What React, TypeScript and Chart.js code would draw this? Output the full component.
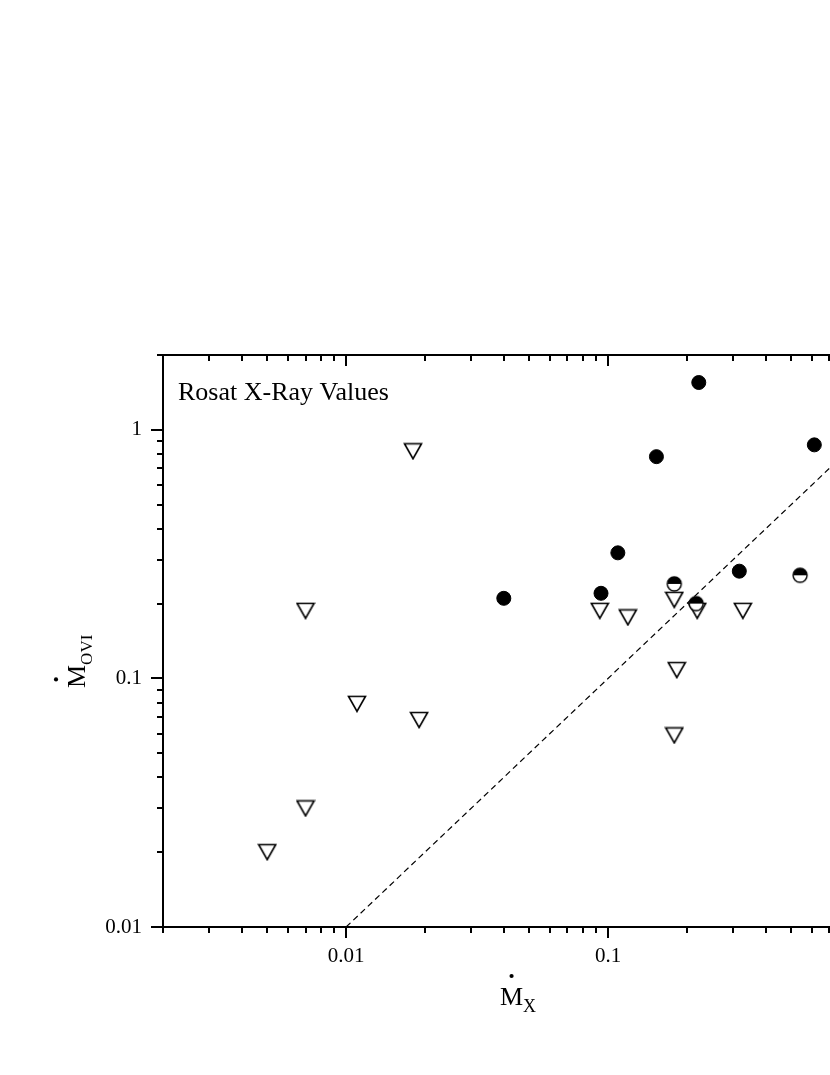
import React, { useEffect, useRef } from 'react';
import { Chart, registerables } from 'chart.js';

Chart.register(...registerables);

// ---- data ----
const filledX = [0.040, 0.094, 0.109, 0.153, 0.222, 0.317, 0.613];
const filledY = [0.21, 0.22, 0.32, 0.78, 1.55, 0.27, 0.87];

const halfX = [0.179, 0.217, 0.541];
const halfY = [0.24, 0.20, 0.26];

const triX = [0.005, 0.007, 0.007, 0.011, 0.018, 0.019, 0.093, 0.119, 0.179, 0.183, 0.179, 0.219, 0.327];
const triY = [0.020, 0.030, 0.187, 0.079, 0.82, 0.068, 0.187, 0.176, 0.207, 0.108, 0.059, 0.187, 0.187];

const refLineX = [0.01, 1];

const xTickLabels = ['0.01', '0.1', '1'];
const yTickLabels = ['0.01', '0.1', '1'];

const annotationText = 'Rosat X-Ray Values';

const X_MIN = 0.002;
const X_MAX = 1;
const Y_MIN = 0.01;
const Y_MAX = 2;

const SERIF = '"Liberation Serif", "DejaVu Serif", serif';

function logTicks(min: number, max: number): number[] {
  const out: number[] = [];
  const e0 = Math.floor(Math.log10(min));
  const e1 = Math.ceil(Math.log10(max));
  for (let e = e0; e <= e1; e++) {
    for (let k = 1; k <= 9; k++) {
      const v = parseFloat((k * Math.pow(10, e)).toPrecision(6));
      if (v >= min * 0.9999 && v <= max * 1.0001) out.push(v);
    }
  }
  return out;
}

function isMajor(v: number): boolean {
  const e = Math.log10(v);
  return Math.abs(e - Math.round(e)) < 1e-6;
}

function labelFor(labels: string[], v: number): string {
  const f = labels.find((l) => Math.abs(Number(l) - v) / v < 1e-6);
  return f || '';
}

function makeTriangle(): HTMLCanvasElement {
  const c = document.createElement('canvas');
  c.width = 20;
  c.height = 18;
  const g = c.getContext('2d')!;
  g.beginPath();
  g.moveTo(1.5, 1.5);
  g.lineTo(18.5, 1.5);
  g.lineTo(10, 16.5);
  g.closePath();
  g.fillStyle = '#fff';
  g.fill();
  g.lineWidth = 1.6;
  g.lineJoin = 'miter';
  g.strokeStyle = '#000';
  g.stroke();
  return c;
}

function makeHalf(): HTMLCanvasElement {
  const c = document.createElement('canvas');
  c.width = 18;
  c.height = 18;
  const g = c.getContext('2d')!;
  g.beginPath();
  g.arc(9, 9, 7, 0, Math.PI * 2);
  g.fillStyle = '#fff';
  g.fill();
  g.beginPath();
  g.arc(9, 9, 7, Math.PI, Math.PI * 2);
  g.closePath();
  g.fillStyle = '#000';
  g.fill();
  g.beginPath();
  g.arc(9, 9, 7, 0, Math.PI * 2);
  g.lineWidth = 1.4;
  g.strokeStyle = '#000';
  g.stroke();
  return c;
}

const framePlugin = {
  id: 'framePlugin',
  afterDraw(chart: any) {
    const { ctx, chartArea } = chart;
    const { left, right, top, bottom } = chartArea;
    const xs = chart.scales.x;
    const ys = chart.scales.y;
    ctx.save();
    ctx.strokeStyle = '#000';
    ctx.lineWidth = 2;
    ctx.strokeRect(left, top, right - left, bottom - top);

    const line = (x1: number, y1: number, x2: number, y2: number) => {
      ctx.beginPath();
      ctx.moveTo(x1, y1);
      ctx.lineTo(x2, y2);
      ctx.stroke();
    };
    xs.ticks.forEach((t: any) => {
      const px = Math.round(xs.getPixelForValue(t.value));
      const maj = isMajor(t.value);
      const lo = maj ? 11 : 6;
      line(px, bottom, px, bottom + lo);
      line(px, top, px, top + lo);
    });
    ys.ticks.forEach((t: any) => {
      const py = Math.round(ys.getPixelForValue(t.value));
      const maj = isMajor(t.value);
      const lo = maj ? 12 : 6;
      line(left, py, left - lo, py);
      line(right, py, right - lo, py);
    });

    ctx.fillStyle = '#000';
    // annotation
    ctx.font = `26px ${SERIF}`;
    ctx.textAlign = 'left';
    ctx.textBaseline = 'alphabetic';
    ctx.fillText(annotationText, left + 15, top + 45);

    // x axis title: M with dot, subscript X
    const mFont = `26px ${SERIF}`;
    const subFont = `18px ${SERIF}`;
    const xmx = 492;
    const xmy = 997;
    ctx.font = mFont;
    const mw = ctx.measureText('M').width;
    ctx.fillText('M', xmx, xmy);
    ctx.beginPath();
    ctx.arc(xmx + mw / 2, xmy - 29, 2.1, 0, Math.PI * 2);
    ctx.fill();
    ctx.font = subFont;
    ctx.fillText('X', xmx + mw, xmy + 7);

    // y axis title (rotated)
    ctx.save();
    ctx.translate(77, 680);
    ctx.rotate(-Math.PI / 2);
    ctx.font = mFont;
    ctx.fillText('M', 0, 0);
    ctx.beginPath();
    ctx.arc(mw / 2 - 3, -29, 2.1, 0, Math.PI * 2);
    ctx.fill();
    ctx.font = `17px ${SERIF}`;
    ctx.fillText('OVI', mw, 7);
    ctx.restore();

    ctx.restore();
  },
};

export default function App() {
  const ref = useRef<HTMLCanvasElement | null>(null);

  useEffect(() => {
    document.documentElement.style.overflow = 'hidden';
    document.body.style.overflow = 'hidden';
    if (!ref.current) return;
    const tri = makeTriangle();
    const half = makeHalf();

    const chart = new Chart(ref.current, {
      type: 'scatter',
      data: {
        datasets: [
          {
            type: 'scatter',
            label: 'half',
            data: halfX.map((x, i) => ({ x, y: halfY[i] })),
            pointStyle: half as any,
            pointRadius: 9,
            order: 0,
          },
          {
            type: 'scatter',
            label: 'filled',
            data: filledX.map((x, i) => ({ x, y: filledY[i] })),
            pointStyle: 'circle',
            pointRadius: 7,
            backgroundColor: '#000',
            borderColor: '#000',
            borderWidth: 1,
            order: 1,
          },
          {
            type: 'scatter',
            label: 'upper limits',
            data: triX.map((x, i) => ({ x, y: triY[i] })),
            pointStyle: tri as any,
            pointRadius: 10,
            order: 2,
          },
          {
            type: 'line',
            label: 'equality',
            data: refLineX.map((v) => ({ x: v, y: v })),
            borderColor: '#000',
            borderWidth: 1.2,
            borderDash: [6, 4],
            pointRadius: 0,
            fill: false,
            order: 3,
          } as any,
        ],
      },
      options: {
        animation: false,
        responsive: false,
        events: [],
        layout: { padding: { left: 0, top: 347, right: 138, bottom: 0 } },
        plugins: { legend: { display: false }, tooltip: { enabled: false }, title: { display: false } },
        scales: {
          x: {
            type: 'logarithmic',
            position: 'bottom',
            min: X_MIN,
            max: X_MAX,
            grid: { display: false, drawTicks: false },
            border: { display: false },
            afterBuildTicks: (s: any) => {
              s.ticks = logTicks(X_MIN, X_MAX).map((v) => ({ value: v }));
            },
            afterFit: (s: any) => {
              s.height = 140;
            },
            ticks: {
              autoSkip: false,
              maxRotation: 0,
              minRotation: 0,
              padding: 17,
              color: '#000',
              font: { family: SERIF, size: 21 },
              callback: (v: any) => labelFor(xTickLabels, Number(v)),
            },
          },
          y: {
            type: 'logarithmic',
            position: 'left',
            min: Y_MIN,
            max: Y_MAX,
            grid: { display: false, drawTicks: false },
            border: { display: false },
            afterBuildTicks: (s: any) => {
              s.ticks = logTicks(Y_MIN, Y_MAX).map((v) => ({ value: v }));
            },
            afterFit: (s: any) => {
              s.width = 155;
            },
            ticks: {
              autoSkip: false,
              padding: 21,
              color: '#000',
              font: { family: SERIF, size: 21 },
              callback: (v: any) => labelFor(yTickLabels, Number(v)),
            },
          },
        },
      },
      plugins: [framePlugin],
    });
    return () => chart.destroy();
  }, []);

  return (
    <div
      style={{
        position: 'fixed',
        left: 0,
        top: 0,
        width: '100vw',
        height: '100vh',
        overflow: 'hidden',
        background: '#fff',
      }}
    >
      <canvas
        ref={ref}
        width={1000}
        height={1059}
        style={{ display: 'block', position: 'absolute', left: 8, top: 8 }}
      />
    </div>
  );
}
